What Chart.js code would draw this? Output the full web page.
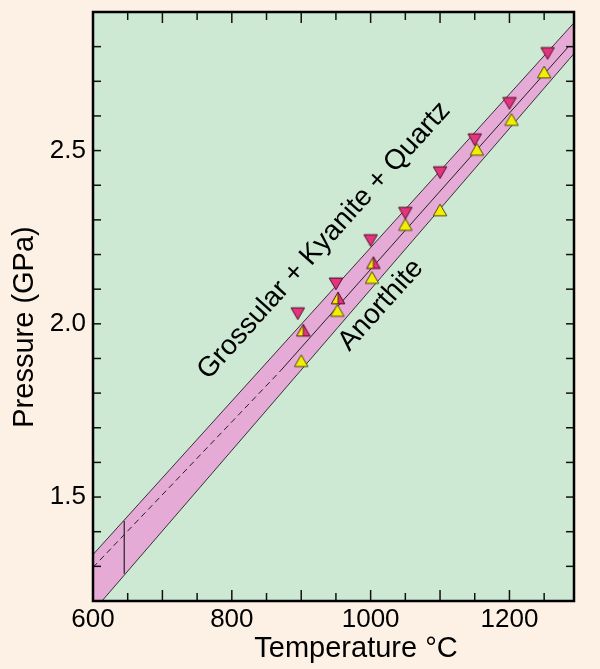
<!DOCTYPE html>
<html>
<head>
<meta charset="utf-8">
<script src="https://cdn.jsdelivr.net/npm/chart.js@4.4.0/dist/chart.umd.min.js"></script>
<style>
html, body { margin: 0; padding: 0; background: #fdf0e4; }
#wrap { width: 600px; height: 669px; }
</style>
</head>
<body>
<div id="wrap"><canvas id="canvas1"></canvas></div>
<script>
// grossular + kyanite + quartz grew (down triangles)
let gkqT = [895, 950, 1000, 1050, 1100, 1150, 1200, 1255];
let gkqP = [2.035, 2.121, 2.246, 2.325, 2.442, 2.537, 2.642, 2.786];
// anorthite grew (up triangles)
let anT = [900, 952, 1002, 1050, 1100, 1153, 1203, 1250];
let anP = [1.888, 2.033, 2.128, 2.281, 2.323, 2.498, 2.584, 2.721];
// half filled triangles
let mixT = [903, 953, 1004];
let mixP = [1.976, 2.069, 2.171];

// uncertainty band
let bandT = [600, 1293];
let bandUpper = [1.334, 2.869];
let bandLower = [1.170, 2.780];

// reaction curve, dashed part and solid part
let dashT = [600, 870];
let dashP = [1.297, 1.864];
let fitT = [870, 1285];
let fitP = [1.864, 2.800];

// error bar
let errT = [645, 645];
let errP = [1.279, 1.431];

let xLabels = [600, 800, 1000, 1200];
let yLabels = [1.5, 2.0, 2.5];
let xMajor = [700, 800, 900, 1000, 1100, 1200];
let xMinor = [650, 750, 850, 950, 1050, 1150, 1250];
let yMinor = [1.3, 1.4, 1.5, 1.6, 1.7, 1.8, 1.9, 2.0, 2.1, 2.2, 2.3, 2.4, 2.5, 2.6, 2.7, 2.8];

const FONT = "'Liberation Sans', Arial, Helvetica, sans-serif";
const MAGENTA = '#e4337f';
const YELLOW = '#f4ee00';

function pts(xs, ys) {
    return xs.map((x, i) => ({ x: x, y: ys[i] }));
}

function makeMarker(kind) {
    let r = 7.8, s = 20;
    let c = document.createElement('canvas');
    c.width = s; c.height = s;
    let g = c.getContext('2d');
    let cx = s / 2, cy = s / 2;
    let dir = kind === 'down' ? -1 : 1;
    let h = r * Math.sin(Math.PI / 3);
    let apex = [cx, cy - dir * r];
    let left = [cx - h, cy + dir * r / 2];
    let right = [cx + h, cy + dir * r / 2];
    g.lineJoin = 'round';
    if (kind === 'half') {
        g.beginPath();
        g.moveTo(apex[0], apex[1]); g.lineTo(left[0], left[1]); g.lineTo(cx, left[1]); g.closePath();
        g.fillStyle = YELLOW; g.fill();
        g.beginPath();
        g.moveTo(apex[0], apex[1]); g.lineTo(right[0], right[1]); g.lineTo(cx, right[1]); g.closePath();
        g.fillStyle = MAGENTA; g.fill();
        g.beginPath();
        g.moveTo(apex[0], apex[1]); g.lineTo(cx, left[1]);
        g.strokeStyle = '#5a1a30'; g.lineWidth = 1; g.stroke();
    }
    g.beginPath();
    g.moveTo(apex[0], apex[1]); g.lineTo(left[0], left[1]); g.lineTo(right[0], right[1]); g.closePath();
    if (kind === 'down') { g.fillStyle = MAGENTA; g.fill(); }
    if (kind === 'up') { g.fillStyle = YELLOW; g.fill(); }
    g.strokeStyle = kind === 'up' ? '#4a4a10' : '#4a1025';
    g.lineWidth = 1;
    g.stroke();
    return c;
}

function line(ctx, x1, y1, x2, y2) {
    ctx.beginPath();
    ctx.moveTo(x1, y1);
    ctx.lineTo(x2, y2);
    ctx.stroke();
}

const decor = {
    id: 'decor',
    beforeDraw(chart) {
        const { ctx, chartArea: a } = chart;
        ctx.save();
        ctx.fillStyle = '#fdf0e4';
        ctx.fillRect(0, 0, chart.width, chart.height);
        ctx.fillStyle = '#cde9d3';
        ctx.fillRect(a.left, a.top, a.right - a.left, a.bottom - a.top);
        ctx.restore();
    },
    afterDatasetsDraw(chart) {
        const ctx = chart.ctx;
        const xs = chart.scales.x, ys = chart.scales.y;
        ctx.save();
        ctx.fillStyle = '#000';
        ctx.font = '28px ' + FONT;
        ctx.textAlign = 'center';
        ctx.textBaseline = 'middle';
        let ang = -48 * Math.PI / 180;
        ctx.translate(xs.getPixelForValue(933), ys.getPixelForValue(2.24));
        ctx.rotate(ang);
        ctx.fillText('Grossular + Kyanite + Quartz', 0, 0);
        ctx.restore();

        ctx.save();
        ctx.fillStyle = '#000';
        ctx.font = '28px ' + FONT;
        ctx.textAlign = 'center';
        ctx.textBaseline = 'middle';
        ctx.translate(xs.getPixelForValue(1015), ys.getPixelForValue(2.054));
        ctx.rotate(ang);
        ctx.fillText('Anorthite', 0, 0);
        ctx.restore();
    },
    afterDraw(chart) {
        const { ctx, chartArea: a } = chart;
        const xs = chart.scales.x, ys = chart.scales.y;
        ctx.save();
        ctx.strokeStyle = '#111';
        ctx.lineWidth = 1.5;
        xMajor.forEach(v => {
            let p = xs.getPixelForValue(v);
            line(ctx, p, a.bottom, p, a.bottom - 11);
            line(ctx, p, a.top, p, a.top + 11);
        });
        xMinor.forEach(v => {
            let p = xs.getPixelForValue(v);
            line(ctx, p, a.bottom, p, a.bottom - 8);
            line(ctx, p, a.top, p, a.top + 8);
        });
        yMinor.forEach(v => {
            let p = ys.getPixelForValue(v);
            line(ctx, a.left, p, a.left + 8, p);
            line(ctx, a.right, p, a.right - 8, p);
        });
        ctx.strokeStyle = '#000';
        ctx.lineWidth = 2.5;
        ctx.strokeRect(a.left, a.top, a.right - a.left, a.bottom - a.top);

        ctx.fillStyle = '#000';
        ctx.font = '29px ' + FONT;
        ctx.textAlign = 'center';
        ctx.textBaseline = 'alphabetic';
        ctx.fillText('Temperature \u00b0C', 356, 657);
        ctx.translate(33, 327);
        ctx.rotate(-Math.PI / 2);
        ctx.fillText('Pressure (GPa)', 0, 0);
        ctx.restore();
    }
};

let canvas1 = document.getElementById('canvas1');

let chart1 = new Chart(canvas1, {
    type: 'line',
    data: {
        datasets: [{
            label: 'Grossular + Kyanite + Quartz',
            data: pts(gkqT, gkqP),
            showLine: false,
            pointStyle: makeMarker('down'),
            pointRadius: 7,
            order: 0
        }, {
            label: 'Anorthite',
            data: pts(anT, anP),
            showLine: false,
            pointStyle: makeMarker('up'),
            pointRadius: 7,
            order: 0
        }, {
            label: 'Mixed',
            data: pts(mixT, mixP),
            showLine: false,
            pointStyle: makeMarker('half'),
            pointRadius: 7,
            order: 0
        }, {
            label: 'Curve (extrapolated)',
            data: pts(dashT, dashP),
            borderColor: '#222',
            borderWidth: 1,
            borderDash: [6, 4],
            pointRadius: 0,
            order: 1
        }, {
            label: 'Curve',
            data: pts(fitT, fitP),
            borderColor: '#222',
            borderWidth: 1,
            pointRadius: 0,
            order: 1
        }, {
            label: 'Error',
            data: pts(errT, errP),
            borderColor: '#222',
            borderWidth: 1.2,
            pointRadius: 0,
            order: 1
        }, {
            label: 'Upper',
            data: pts(bandT, bandUpper),
            borderColor: '#333',
            borderWidth: 1,
            pointRadius: 0,
            fill: '+1',
            backgroundColor: '#e6aad6',
            order: 3
        }, {
            label: 'Lower',
            data: pts(bandT, bandLower),
            borderColor: '#333',
            borderWidth: 1,
            pointRadius: 0,
            fill: false,
            order: 2
        }]
    },
    options: {
        responsive: true,
        maintainAspectRatio: false,
        animation: false,
        layout: {
            padding: { top: 12, right: 26, left: 0, bottom: 0 }
        },
        plugins: {
            legend: { display: false },
            tooltip: { enabled: false }
        },
        scales: {
            x: {
                type: 'linear',
                min: 600,
                max: 1293,
                afterBuildTicks: s => { s.ticks = xLabels.map(v => ({ value: v })); },
                afterFit: s => { s.height = 68; s.paddingLeft = 0; s.paddingRight = 0; },
                grid: { display: false, drawTicks: false },
                border: { display: false },
                ticks: {
                    padding: 3,
                    color: '#000',
                    font: { family: FONT, size: 26 },
                    callback: v => String(v)
                }
            },
            y: {
                type: 'linear',
                min: 1.2,
                max: 2.9,
                afterBuildTicks: s => { s.ticks = yLabels.map(v => ({ value: v })); },
                afterFit: s => { s.width = 93; s.paddingTop = 0; s.paddingBottom = 0; },
                grid: { display: false, drawTicks: false },
                border: { display: false },
                ticks: {
                    padding: 7,
                    color: '#000',
                    font: { family: FONT, size: 26 },
                    callback: v => v.toFixed(1)
                }
            }
        }
    },
    plugins: [decor]
});
</script>
</body>
</html>
